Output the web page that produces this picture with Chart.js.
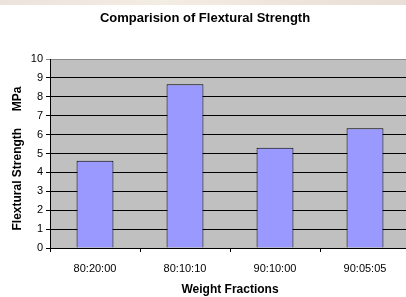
<!DOCTYPE html>
<html>
<head>
<meta charset="utf-8">
<script src="https://cdn.jsdelivr.net/npm/chart.js@4"></script>
<style>
  html, body { margin: 0; padding: 0; background: #fff; overflow: hidden; }
  #strip { position: absolute; left: 0; top: 0; width: 406px; height: 5px;
           background: linear-gradient(90deg, #ece3dc, #f4ede4 40%, #efe4dc 70%, #e9dfd6); }
  #wrap { position: absolute; left: 0; top: 0; width: 410px; height: 297px; }
</style>
</head>
<body>
<div id="wrap"><canvas id="chart" width="410" height="297"></canvas></div>
<div id="strip"></div>
<script>
const categories = ['80:20:00', '80:10:10', '90:10:00', '90:05:05'];
const strength = [4.62, 8.66, 5.31, 6.33];
const yTicks = [0, 1, 2, 3, 4, 5, 6, 7, 8, 9, 10];

// grey plot area like the old spreadsheet chart
const plotBg = {
  id: 'plotBg',
  beforeDraw(chart){
    const {ctx, chartArea: a} = chart;
    ctx.save();
    ctx.fillStyle = '#c0c0c0';
    ctx.fillRect(a.left, a.top, a.right - a.left, a.bottom - a.top);
    ctx.restore();
  }
};

const font = 'Arial, "Liberation Sans", sans-serif';

new Chart(document.getElementById('chart'), {
  type: 'bar',
  data: {
    labels: categories,
    datasets: [{
      data: strength,
      backgroundColor: '#9999ff',
      borderColor: '#000',
      borderWidth: 1,
      barPercentage: 0.41,
      categoryPercentage: 1
    }]
  },
  options: {
    responsive: false,
    animation: false,
    layout: { padding: 0 },
    plugins: {
      legend: { display: false },
      tooltip: { enabled: false },
      title: {
        display: true,
        text: 'Comparision of Flextural Strength',
        color: '#000',
        font: { family: font, size: 13, weight: 'bold' },
        padding: { top: 11, bottom: 32.4 }
      }
    },
    scales: {
      x: {
        afterFit(s){ s.height = 49; },
        grid: { offset: true, drawOnChartArea: false, drawTicks: true, tickLength: 4, color: '#000' },
        border: { display: true, color: '#000' },
        ticks: { color: '#000', padding: 10, font: { family: font, size: 11 } },
        title: {
          display: true, text: 'Weight Fractions', color: '#000',
          font: { family: font, size: 12, weight: 'bold' },
          padding: { top: 0, bottom: 0 }
        }
      },
      y: {
        min: 0, max: 10,
        afterFit(s){ s.width = 50; },
        afterBuildTicks(s){ s.ticks = yTicks.map(v => ({ value: v })); },
        grid: {
          color: c => c.tick && c.tick.value === 10 ? '#8a8a8a' : '#000',
          tickLength: 4
        },
        border: { display: true, color: '#000' },
        ticks: { color: '#000', padding: 3, font: { family: font, size: 11 } },
        title: {
          display: true, text: 'Flextural Strength     MPa   ', color: '#000',
          font: { family: font, size: 12, weight: 'bold' },
          padding: { top: 10, bottom: 0 }
        }
      }
    }
  },
  plugins: [plotBg]
});
</script>
</body>
</html>
